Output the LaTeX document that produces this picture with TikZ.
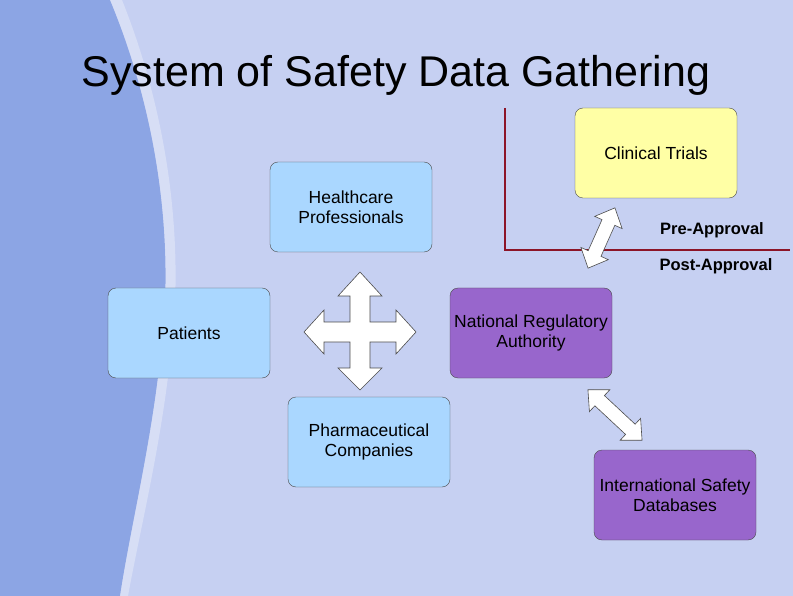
\documentclass[tikz,border=0pt]{standalone}
\usepackage{fontspec}
\setmainfont{Liberation Sans}
\definecolor{bgR}{RGB}{198,208,242}
\definecolor{bgL}{RGB}{140,165,228}
\definecolor{yel}{RGB}{255,255,165}
\definecolor{lblue}{RGB}{170,215,255}
\definecolor{purp}{RGB}{152,102,204}
\definecolor{dred}{RGB}{140,20,40}
\begin{document}
\begin{tikzpicture}[x=1pt,y=-1pt,
 box/.style={draw=black!70,rounded corners=8pt,minimum width=162pt,minimum height=90pt,align=center,font=\fontsize{17.5}{20}\selectfont,inner sep=1pt},
 arr/.style={draw=black!70,fill=white,line width=0.6pt},
 lbl/.style={font=\bfseries\fontsize{16.5}{19}\selectfont}]
\useasboundingbox (0,0) rectangle (793,596);
\fill[bgR] (0,0) rectangle (793,596);
\fill[bgL] (0,0) -- (110,0) .. controls (160,120) and (175,250) .. (160,360) .. controls (150,450) and (130,530) .. (120,596) -- (0,596) -- cycle;
\fill[white,opacity=0.3] (110,0) .. controls (160,120) and (175,250) .. (160,360) .. controls (150,450) and (130,530) .. (120,596) -- (128,596) .. controls (140,530) and (160,450) .. (170,360) .. controls (185,250) and (170,120) .. (122,0) -- cycle;
\node (title) at (396,75) {\fontsize{43}{50}\selectfont System of Safety Data Gathering};
\coordinate (lt) at (505,108); \coordinate (lc) at (505,250); \coordinate (lr) at (790,250);
\draw[dred,line width=2.5pt] (lt) -- (lc) -- (lr);
\node[box,fill=yel] (ct) at (656,153) {Clinical Trials};
\node[box,fill=lblue] (hp) at (351,207) {Healthcare\\Professionals};
\node[box,fill=lblue] (pa) at (189,333) {Patients};
\node[box,fill=purp] (nra) at (531,333) {National Regulatory\\Authority};
\node[box,fill=lblue] (pc) at (369,442) {Pharmaceutical\\Companies};
\node[box,fill=purp] (isd) at (675,495) {International Safety\\Databases};
\node[lbl] (pre) at (712,230) {Pre-Approval};
\node[lbl] (post) at (716,266) {Post-Approval};
\coordinate (a1) at (601.5,238);
\coordinate (a2) at (615,415);
\path[arr,shift={(a1)},rotate=66] (-33,0) -- (-17,-15) -- (-17,-7) -- (17,-7) -- (17,-15) -- (33,0) -- (17,15) -- (17,7) -- (-17,7) -- (-17,15) -- cycle;
\path[arr,shift={(a2)},rotate=-43] (-37,0) -- (-21,-15) -- (-21,-7) -- (21,-7) -- (21,-15) -- (37,0) -- (21,15) -- (21,7) -- (-21,7) -- (-21,15) -- cycle;
\path[arr,shift={(360,332)}]
 (-10,-10) -- (-10,-36) -- (-22,-36) -- (0,-60) -- (22,-36) -- (10,-36) -- (10,-10)
 -- (36,-10) -- (36,-22) -- (56,0) -- (36,22) -- (36,10) -- (10,10)
 -- (10,36) -- (22,36) -- (0,58) -- (-22,36) -- (-10,36) -- (-10,10)
 -- (-36,10) -- (-36,22) -- (-56,0) -- (-36,-22) -- (-36,-10) -- cycle;
\end{tikzpicture}
\end{document}
